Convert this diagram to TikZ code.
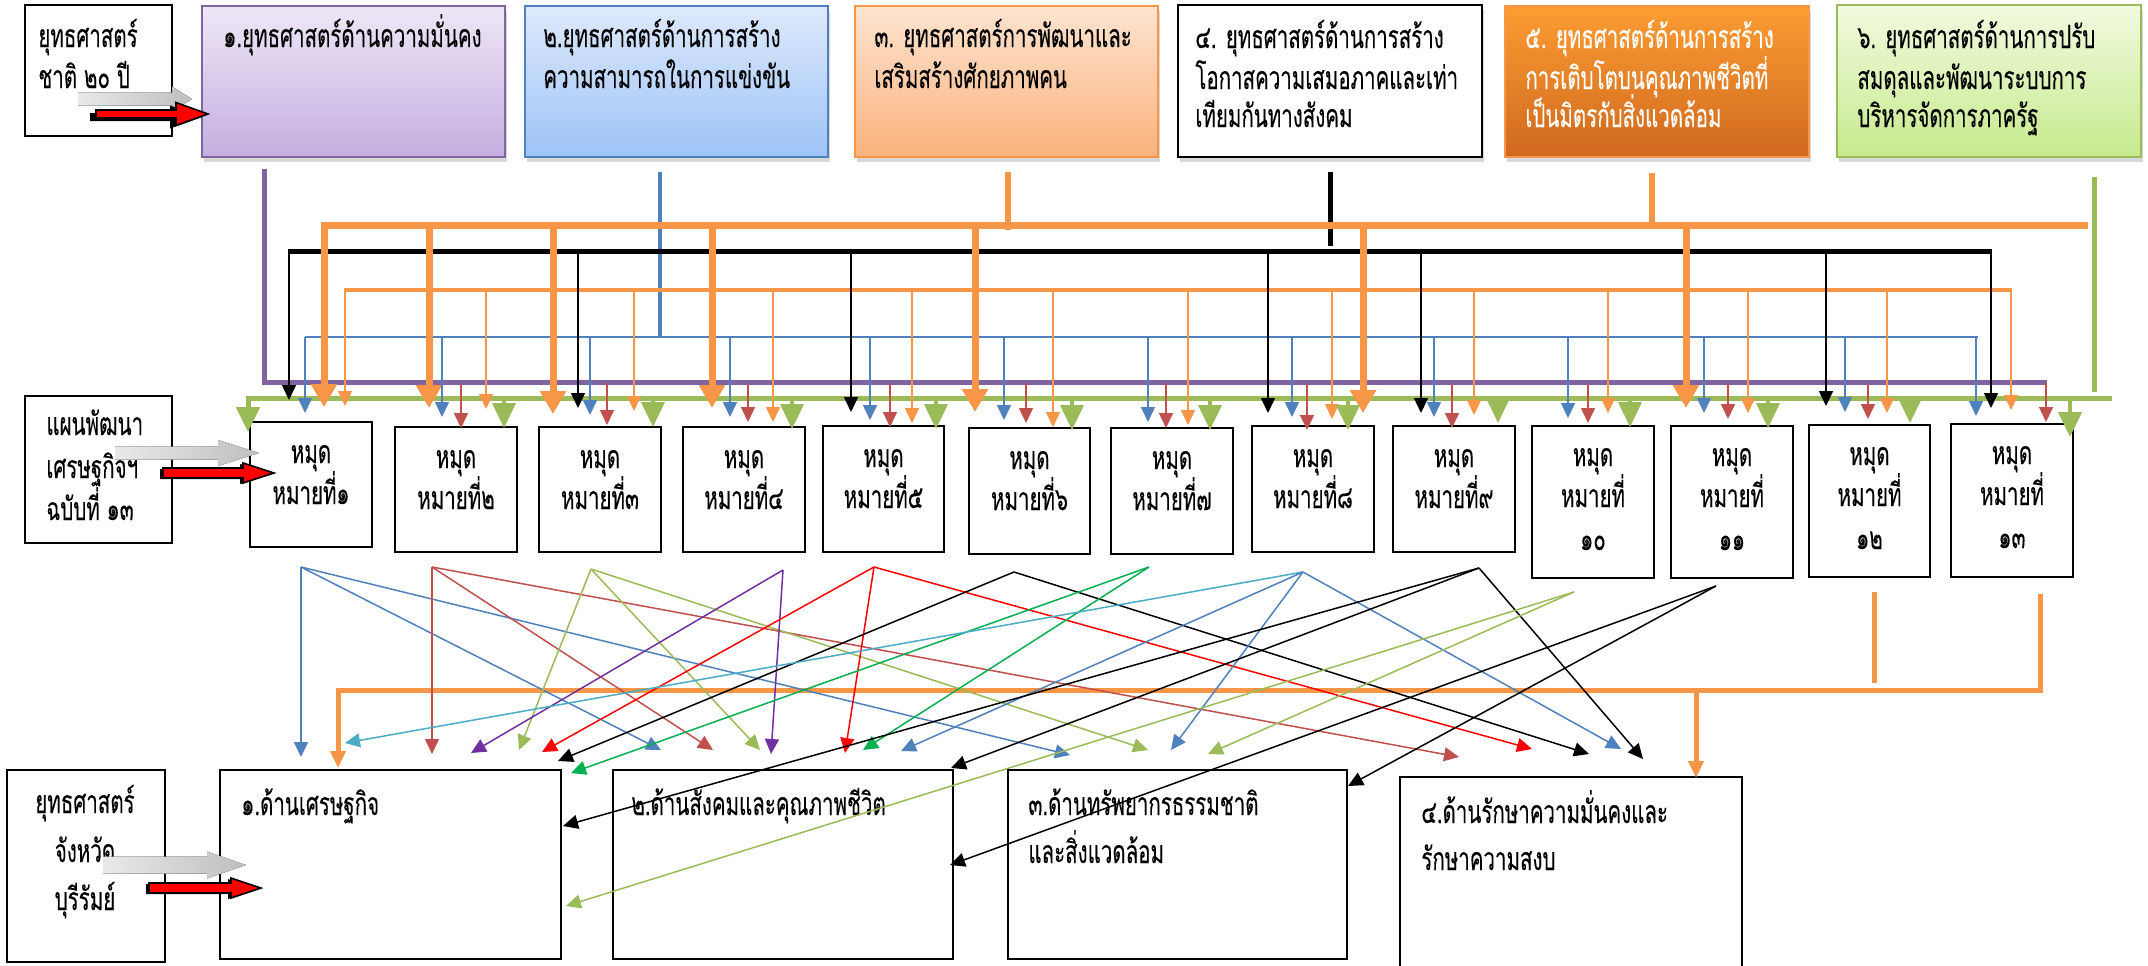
\documentclass[tikz,border=0pt]{standalone}
\usepackage{fontspec}
\newfontfamily\thaifont[Script=Thai,FakeStretch=0.64,FakeBold=0.2]{Loma}
\usetikzlibrary{arrows.meta,fit,shadows}
\definecolor{cpur}{HTML}{8064A2}
\definecolor{cblu}{HTML}{4F81BD}
\definecolor{cora}{HTML}{F79646}
\definecolor{cred}{HTML}{C0504D}
\definecolor{cgrn}{HTML}{9BBB59}
\definecolor{cteal}{HTML}{4BACC6}
\definecolor{cvio}{HTML}{7030A0}
\definecolor{cbright}{HTML}{FF0000}
\definecolor{cgrn2}{HTML}{00B050}
\definecolor{cgray}{HTML}{BFBFBF}
\definecolor{p1t}{HTML}{EEE7F6}
\definecolor{p1b}{HTML}{C4AEE0}
\definecolor{p2t}{HTML}{DEE9FB}
\definecolor{p2b}{HTML}{9DC3F7}
\definecolor{p3t}{HTML}{FDE4D0}
\definecolor{p3b}{HTML}{FAB27C}
\definecolor{p5t}{HTML}{FC9C32}
\definecolor{p5b}{HTML}{D0691F}
\definecolor{p6t}{HTML}{F1FADF}
\definecolor{p6b}{HTML}{C7EA8D}
\tikzset{
  tfont/.style={font=\thaifont\fontsize{16}{18}\selectfont},
  txt/.style={anchor=base west, inner sep=0pt, tfont},
  ctxt/.style={anchor=base, inner sep=0pt, tfont},
  bx/.style={inner sep=0pt, draw=black, line width=1pt, fill=white},
  topbx/.style={inner sep=0pt, line width=1pt, drop shadow={opacity=0.3, shadow xshift=1pt, shadow yshift=-2.5pt}},
  tarr/.style={line width=0.75pt, -{Triangle[width=7pt,length=7.5pt]}},
  barr/.style={line width=3.5pt, cora, -{Triangle[width=12.5pt,length=11.5pt]}},
  garr/.style={line width=2.5pt, cgrn, -{Triangle[width=11.5pt,length=12.5pt]}},
  oarr/.style={line width=2.5pt, cora, -{Triangle[width=7.5pt,length=8.5pt]}},
  grayarr/.style={left color=cgray!35, right color=cgray, draw=none},
  redarr/.style={fill=red, draw=black, line width=0.8pt},
}
\begin{document}
\begin{tikzpicture}[x=0.5pt,y=-0.5pt]
\useasboundingbox (0,0) rectangle (2148,965);
\fill[white] (0,0) rectangle (2148,965);

% ---------- top boxes ----------
\node[bx, fit={(25,5)(172,136)}] (na) {};
\node[topbx, fit={(202,6)(505,157)}, draw=cpur, top color=p1t, bottom color=p1b] (s1) {};
\node[topbx, fit={(525,6)(828,157)}, draw=cblu, top color=p2t, bottom color=p2b] (s2) {};
\node[topbx, fit={(855,6)(1158,157)}, draw=cora, top color=p3t, bottom color=p3b] (s3) {};
\node[bx, fit={(1178,5)(1482,157)}, drop shadow={opacity=0.3, shadow xshift=1pt, shadow yshift=-2.5pt}] (s4) {};
\node[topbx, fit={(1505,6)(1809,157)}, draw=cora, top color=p5t, bottom color=p5b] (s5) {};
\node[topbx, fit={(1837,5)(2141,157)}, draw=cgrn, top color=p6t, bottom color=p6b] (s6) {};

\node[txt] (ta1) at (38,47) {ยุทธศาสตร์};
\node[txt] (ta2) at (38,88) {ชาติ ๒๐ ปี};
\node[txt] (t11) at (223,47) {๑.ยุทธศาสตร์ด้านความมั่นคง};
\node[txt] (t21) at (543,47) {๒.ยุทธศาสตร์ด้านการสร้าง};
\node[txt] (t22) at (543,88) {ความสามารถในการแข่งขัน};
\node[txt] (t31) at (874,47) {๓. ยุทธศาสตร์การพัฒนาและ};
\node[txt] (t32) at (874,88) {เสริมสร้างศักยภาพคน};
\node[txt] (t41) at (1195,48) {๔. ยุทธศาสตร์ด้านการสร้าง};
\node[txt] (t42) at (1195,89) {โอกาสความเสมอภาคและเท่า};
\node[txt] (t43) at (1195,127) {เทียมกันทางสังคม};
\node[txt, text=white] (t51) at (1525,48) {๕. ยุทธศาสตร์ด้านการสร้าง};
\node[txt, text=white] (t52) at (1525,89) {การเติบโตบนคุณภาพชีวิตที่};
\node[txt, text=white] (t53) at (1525,127) {เป็นมิตรกับสิ่งแวดล้อม};
\node[txt] (t61) at (1857,48) {๖. ยุทธศาสตร์ด้านการปรับ};
\node[txt] (t62) at (1857,89) {สมดุลและพัฒนาระบบการ};
\node[txt] (t63) at (1857,127) {บริหารจัดการภาครัฐ};

% ---------- plan box and milestone boxes ----------
\node[bx, fit={(25,396)(172,543)}] (nb) {};
\node[txt] (tb1) at (46,435) {แผนพัฒนา};
\node[txt] (tb2) at (46,478) {เศรษฐกิจฯ};
\node[txt] (tb3) at (46,520) {ฉบับที่ ๑๓};

\foreach \i/\xa/\xb/\ya/\yb/\n in {
  1/250/372/422/547/๑, 2/395/517/427/552/๒, 3/539/661/427/552/๓,
  4/683/805/427/552/๔, 5/823/944/426/552/๕, 6/969/1090/428/554/๖,
  7/1111/1233/428/554/๗, 8/1252/1374/426/552/๘, 9/1393/1515/426/552/๙}{
  \node[bx, fit={(\xa,\ya)(\xb,\yb)}] (m\i) {};
  \node[ctxt] (m\i a) at ({(\xa+\xb)/2},{\ya+41}) {หมุด};
  \node[ctxt] (m\i b) at ({(\xa+\xb)/2},{\ya+82}) {หมายที่\n};
}
\foreach \i/\xa/\xb/\ya/\yb/\n in {
  10/1532/1654/426/578/๑๐, 11/1671/1793/426/578/๑๑,
  12/1809/1930/425/577/๑๒, 13/1951/2073/424/577/๑๓}{
  \node[bx, fit={(\xa,\ya)(\xb,\yb)}] (m\i) {};
  \node[ctxt] (m\i a) at ({(\xa+\xb)/2},{\ya+40}) {หมุด};
  \node[ctxt] (m\i b) at ({(\xa+\xb)/2},{\ya+81}) {หมายที่};
  \node[ctxt] (m\i c) at ({(\xa+\xb)/2},{\ya+124}) {\n};
}

% ---------- bottom boxes ----------
\node[bx, fit={(7,770)(165,962)}] (nc) {};
\node[ctxt] (tc1) at (85,813) {ยุทธศาสตร์};
\node[ctxt] (tc2) at (85,862) {จังหวัด};
\node[ctxt] (tc3) at (85,910) {บุรีรัมย์};
\node[bx, fit={(220,770)(561,959)}] (d1) {};
\node[bx, fit={(613,770)(953,959)}] (d2) {};
\node[bx, fit={(1008,770)(1347,959)}] (d3) {};
\node[bx, fit={(1400,777)(1742,975)}] (d4) {};
\node[txt] (td1) at (241,815) {๑.ด้านเศรษฐกิจ};
\node[txt] (td2) at (631,815) {๒.ด้านสังคมและคุณภาพชีวิต};
\node[txt] (td31) at (1028,815) {๓.ด้านทรัพยากรธรรมชาติ};
\node[txt] (td32) at (1028,863) {และสิ่งแวดล้อม};
\node[txt] (td41) at (1421,823) {๔.ด้านรักษาความมั่นคงและ};
\node[txt] (td42) at (1421,870) {รักษาความสงบ};

% ---------- fat arrows ----------
\fill[grayarr] (78,92.5)--(172,92.5)--(172,86.5)--(192,99)--(172,111.5)--(172,105.5)--(78,105.5)--cycle;
\fill[black] (90,113)--(170,113)--(170,105.5)--(202,117)--(170,128.5)--(170,121)--(90,121)--cycle;
\filldraw[redarr] (96,110)--(176,110)--(176,102.5)--(208,114)--(176,125.5)--(176,118)--(96,118)--cycle;

\fill[grayarr] (115,446.5)--(218,446.5)--(218,440)--(259,453)--(218,466)--(218,459.5)--(115,459.5)--cycle;
\fill[black] (160,469)--(240,469)--(240,464)--(271,474)--(240,484)--(240,479)--(160,479)--cycle;
\filldraw[redarr] (163,468)--(243,468)--(243,463)--(274,473)--(243,483)--(243,478)--(163,478)--cycle;

\fill[grayarr] (103,856.5)--(207,856.5)--(207,851.5)--(246,865)--(207,878.5)--(207,873.5)--(103,873.5)--cycle;
\fill[black] (146,884)--(228,884)--(228,879)--(258,889)--(228,899)--(228,894)--(146,894)--cycle;
\filldraw[redarr] (149,883)--(231,883)--(231,878)--(261,888)--(231,898)--(231,893)--(149,893)--cycle;

% ---------- buses ----------
\coordinate (pv) at (264,169);
\coordinate (pe) at (2047,382);
\draw[cpur, line width=2.5pt] (pv) |- (pe);
\coordinate (gv) at (2094,177);
\draw[cgrn, line width=2.5pt] (gv) -- (2094,392);
\coordinate (ge) at (2112,398);
\draw[garr] (ge) -- (248,398) -- (248,432);
\coordinate (bv) at (660,172);
\draw[cblu, line width=2pt] (bv) -- (660,337);
\coordinate (be) at (1978,337);
\draw[cblu, line width=1pt] (305,337) -- (be);
\coordinate (oe) at (2012,290);
\draw[cora, line width=2pt] (344,290) -- (oe);
\coordinate (ke) at (1992,251);
\draw[black, line width=2.5pt] (288,251) -- (ke);
\coordinate (kv) at (1330,172);
\draw[black, line width=2.5pt] (kv) -- (1330,246);
\coordinate (ov3) at (1008,172);
\draw[cora, line width=3pt] (ov3) -- (1008,230);
\coordinate (ov5) at (1652,173);
\draw[cora, line width=3pt] (ov5) -- (1652,228);
\coordinate (te) at (2088,225);
\draw[barr] (te) -- (324,225) -- (324,407);

% drops
\foreach \x/\t in {429/408, 553/414, 712/408, 975/412, 1363/413, 1686/408}
  \draw[barr] (\x,225) -- (\x,\t);
\foreach \x/\t in {289/400, 578/408, 851/412, 1268/413, 1421/413, 1826/406, 1991/408}
  \draw[tarr, black] (\x,251) -- (\x,\t);
\foreach \x/\t in {345/406, 486/409, 634/411, 773/422, 912/423, 1053/427, 1188/425, 1332/419, 1474/415, 1608/413, 1748/413, 1887/413, 2011/410}
  \draw[tarr, cora] (\x,290) -- (\x,\t);
\foreach \x/\t in {305/413, 442/417, 590/415, 730/417, 870/420, 1004/420, 1148/422, 1292/417, 1434/417, 1568/418, 1704/413, 1845/412, 1976/416}
  \draw[tarr, cblu] (\x,337) -- (\x,\t);
\foreach \x/\t in {461/428, 607/425, 748/422, 890/427, 1026/423, 1166/428, 1307/430, 1452/428, 1588/423, 1728/419, 1868/419, 2046/422}
  \draw[tarr, cred] (\x,383) -- (\x,\t);
\foreach \x/\t in {504/428, 653/427, 792/429, 936/429, 1072/430, 1210/430, 1348/430, 1498/423, 1630/427, 1768/428, 1910/423, 2070/437}
  \draw[garr, line width=2pt] (\x,398) -- (\x,\t);

% ---------- bottom orange connector ----------
\coordinate (q12) at (1874,592);
\draw[cora, line width=2.5pt] (q12) -- (1874,683);
\coordinate (q13) at (2040,594);
\draw[oarr] (q13) -- (2040,690) -- (338,690) -- (338,768);
\draw[oarr] (1696,690) -- (1696,778);

% ---------- cross links ----------
\coordinate (S1) at (301,567);
\coordinate (S2) at (432,567);
\coordinate (S3) at (591,569);
\coordinate (S4) at (783,570);
\coordinate (S5) at (874,567);
\coordinate (S6) at (1014,572);
\coordinate (S7) at (1149,567);
\coordinate (S8) at (1303,572);
\coordinate (S9) at (1479,568);
\coordinate (S10) at (1574,592);
\coordinate (S11) at (1716,586);
\foreach \p in {(301,757),(661,750),(1070,755)} \draw[tarr, cblu] (S1) -- \p;
\foreach \p in {(432,754),(713,750),(1459,757)} \draw[tarr, cred] (S2) -- \p;
\foreach \p in {(519,750),(760,750),(1148,750)} \draw[tarr, cgrn] (S3) -- \p;
\foreach \p in {(471,753),(771,754)} \draw[tarr, cvio] (S4) -- \p;
\foreach \p in {(542,752),(845,753),(1532,749)} \draw[tarr, cbright] (S5) -- \p;
\foreach \p in {(558,761),(1589,754)} \draw[tarr, black] (S6) -- \p;
\foreach \p in {(571,773),(863,750)} \draw[tarr, cgrn2] (S7) -- \p;
\draw[tarr, cteal] (S8) -- (345,743);
\foreach \p in {(901,751),(1171,750),(1621,749)} \draw[tarr, cblu] (S8) -- \p;
\foreach \p in {(951,768),(563,826),(1643,759)} \draw[tarr, black] (S9) -- \p;
\foreach \p in {(566,906),(1208,754)} \draw[tarr, cgrn] (S10) -- \p;
\foreach \p in {(1348,786),(950,865)} \draw[tarr, black] (S11) -- \p;
\end{tikzpicture}
\end{document}
